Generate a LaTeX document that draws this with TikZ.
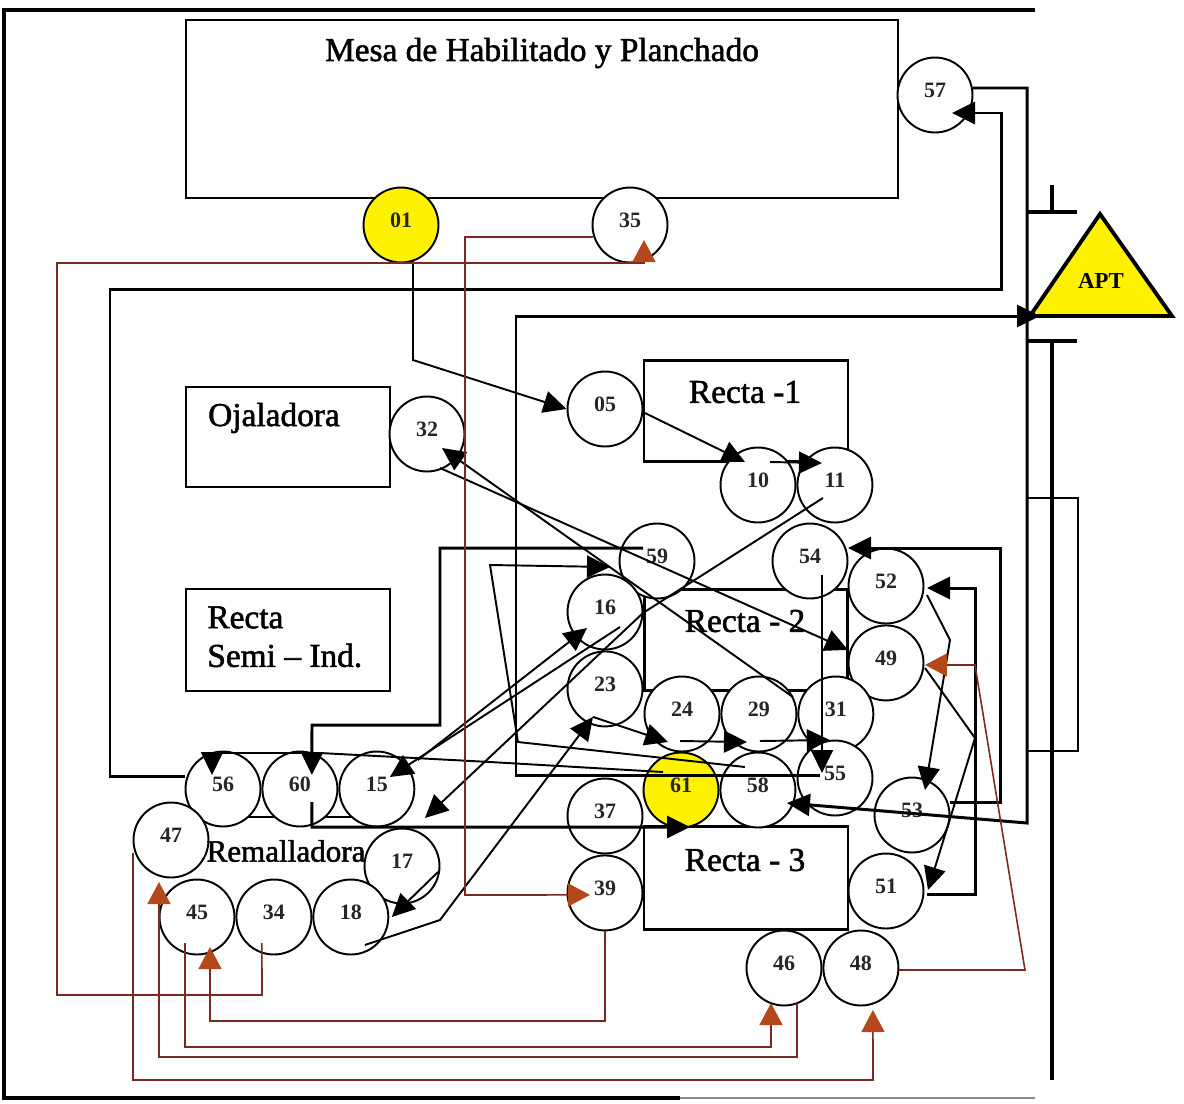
\documentclass[tikz,border=0pt]{standalone}
\usepackage{fontspec}
\setmainfont{Liberation Serif}
\newfontfamily\rotfont[FakeBold=1.6]{Liberation Serif}
\usetikzlibrary{positioning,arrows.meta,calc}
\definecolor{rojizo}{HTML}{7A2A22}
\definecolor{puntarojiza}{HTML}{B5481A}
\definecolor{amarillo}{HTML}{FFF200}
\tikzset{
  maq/.style={draw,circle,line width=1.1pt,minimum size=1.5cm,inner sep=0pt,
            fill=white,text height=8.5pt,text depth=6.1pt,
            font=\fontsize{12.5}{14}\selectfont\bfseries,text=black!85},
  maqini/.style={maq,fill=amarillo},
  mesa/.style={draw,line width=1.3pt,fill=white,inner sep=0pt},
  rotulo/.style={font=\fontsize{19}{22}\selectfont\rotfont,align=left,inner sep=0pt},
  flecha/.style={-{Triangle[length=0.46cm,width=0.44cm]},line width=1.1pt,black},
  flechag/.style={flecha,line width=1.7pt},
  flecharoja/.style={-{Triangle[length=0.44cm,width=0.46cm,fill=puntarojiza,color=puntarojiza]},
            line width=0.9pt,rojizo},
  marco/.style={line width=1.8pt,black},
}
\begin{document}
\begin{tikzpicture}[x=0.02cm,y=-0.02cm,node distance=0pt]
  \useasboundingbox (0,0) rectangle (1184,1103);
  % marco y pasillo
  \draw[marco] (1035,10) -- (4,10) -- (4,1098) -- (680,1098);
  \draw[line width=1.2pt,black!45] (680,1098) -- (1035,1098);
  \draw[marco] (1052,185) -- (1052,212);
  \draw[marco] (1027,212) -- (1077,212);
  \draw[marco] (1027,341) -- (1077,341);
  \draw[marco] (1052,341) -- (1052,1080);
  \draw[line width=1.1pt] (1027,498) -- (1078,498) -- (1078,751) -- (1027,751);
  % mesas
  \node[mesa,minimum width=14.24cm,minimum height=3.56cm] (mesaplan) at (542,109) {};
  \node[mesa,minimum width=4.08cm,minimum height=2cm] (ojal) at (288,437) {};
  \node[mesa,minimum width=4.08cm,minimum height=2.04cm] (semi) at (288,640) {};
  \node[mesa,minimum width=4.08cm,minimum height=2.02cm] (recta1) at (746,411) {};
  \node[mesa,minimum width=4.06cm,minimum height=2.02cm] (recta2) at (746,640) {};
  \node[mesa,minimum width=4.08cm,minimum height=2.06cm] (recta3) at (746,878) {};
  \draw[line width=1.1pt] (223,817) -- (376,817);
  % maquinas
  \node[maq] (n57) at (935,95) {57};
  \node[maqini] (n01) at (401,225) {01};
  \node[maq] (n35) at (630,225) {35};
  \node[maq] (n05) at (605,409) {05};
  \node[maq] (n32) at (427,434) {32};
  \node[maq] (n10) at (758,485) {10};
  \node[maq,right=of n10] (n11) {11};
  \node[maq] (n59) at (657,561) {59};
  \node[maq] (n54) at (810,561) {54};
  \node[maq] (n52) at (886,586) {52};
  \node[maq,below=of n52] (n49) {49};
  \node[maq] (n16) at (605,612) {16};
  \node[maq,below=of n16] (n23) {23};
  \node[maq] (n24) at (682,714) {24};
  \node[maq,right=of n24] (n29) {29};
  \node[maq,right=of n29] (n31) {31};
  \node[maq] (n56) at (223,789) {56};
  \node[maq,right=of n56] (n60) {60};
  \node[maq,right=of n60] (n15) {15};
  \node[maqini] (n61) at (681,790) {61};
  \node[maq,right=of n61] (n58) {58};
  \node[maq] (n55) at (835,778) {55};
  \node[maq] (n37) at (605,816) {37};
  \node[maq,below=of n37] (n39) {39};
  \node[maq] (n53) at (912,815) {53};
  \node[maq] (n47) at (171,840) {47};
  \node[maq] (n17) at (402,866) {17};
  \node[maq] (n51) at (886,891) {51};
  \node[maq] (n45) at (197,917) {45};
  \node[maq,right=of n45] (n34) {34};
  \node[maq,right=of n34] (n18) {18};
  \node[maq] (n46) at (784,968) {46};
  \node[maq,right=of n46] (n48) {48};
  % rotulos
  \node[rotulo] (tmesa) at (542,53) {Mesa de Habilitado y Planchado};
  \node[rotulo] (tojal) at (274,418) {Ojaladora};
  \node[rotulo,anchor=north west] (tsemi) at (207,606) {Recta\\Semi – Ind.};
  \node[rotulo] (trecta1) at (745,392) {Recta -1};
  \node[rotulo] (trecta2) at (745,621) {Recta - 2};
  \node[rotulo] (trecta3) at (745,860) {Recta - 3};
  \node[rotulo,font=\fontsize{17.7}{21}\selectfont\rotfont] (trem) at (286,851) {Remalladora};
  % almacen
  \coordinate (aptentra) at (1040,316);
  \draw[line width=2.2pt,fill=amarillo] (1100,214) -- (1172,316) -- (1030,316) -- cycle;
  \node[font=\fontsize{13}{15}\selectfont\bfseries,inner sep=0pt] (apt) at (1101,281) {APT};
  % recorrido
  \draw[flecha] ($(n01)+(12,36)$) -- (413,360) -- (n05.west);
  \draw[flecha] ($(n05)+(40,4)$) -- ($(n10)+(-13,-23)$);
  \draw[flecha] ($(n10)+(12,-23)$) -- ($(n11)+(-13,-22)$);
  \draw[flecha] ($(n11)+(-12,13)$) -- (643,613) -- ($(n17)+(23,-48)$);
  \draw[flecha] ($(n15)+(41,-29)$) -- ($(n16)+(-18,16)$);
  \draw[flecha] ($(n16)+(15,15)$) -- ($(n15)+(13,-12)$);
  \draw[flecha] ($(n17)+(36,6)$) -- ($(n18)+(41,0)$);
  \draw[flecha] ($(n18)+(14,28)$) -- (440,920) -- ($(n23)+(-12,28)$);
  \draw[flecha] ($(n23)+(-12,28)$) -- ($(n24)+(-14,28)$);
  \draw[flecha] ($(n24)+(-2,27)$) -- ($(n29)+(-12,28)$);
  \draw[flecha] ($(n29)+(1,27)$) -- ($(n31)+(-6,26)$);
  \draw[flecha] ($(n31)+(-43,-17)$) -- ($(n32)+(15,14)$);
  \draw[flecha] ($(n32)+(13,34)$) -- ($(n49)+(-38,-13)$);
  \draw[flecha] ($(n54)+(12,14)$) -- ($(n55)+(-13,-5)$);
  \draw[flecha] ($(n58)+(-13,-23)$) -- (518,742) -- (490,565) -- ($(n59)+(-47,6)$);
  \draw[flechag] ($(n59)+(-14,-13)$) -- (440,548) -- (440,725) -- (312,725) -- ($(n60)+(12,-14)$);
  \draw[flecha] ($(n61)+(-18,-18)$) -- (490,762) -- (320,753) -- (212,753) -- ($(n56)+(-11,-14)$);
  \draw[flechag] ($(n60)+(12,13)$) -- (312,827) -- ($(n61)+(9,37)$);
  \draw[flechag] ($(n55)+(-15,-3)$) -- (516,775) -- (516,316) -- (aptentra);
  \draw[flechag] ($(n56)+(-38,-13)$) -- (110,776) -- (110,289) -- (1001,289) -- (1001,113) -- ($(n57)+(17,18)$);
  \draw[flechag] ($(n57)+(38,-7)$) -- (1027,88) -- (1027,823) -- ($(n58)+(29,13)$);
  \draw[flechag] ($(n53)+(38,-13)$) -- (1000,802) -- (1000,548) -- ($(n54)+(38,-13)$);
  \draw[flechag] ($(n51)+(41,3)$) -- (975,894) -- (975,588) -- ($(n52)+(41,2)$);
  \draw[flecha] ($(n52)+(41,9)$) -- (950,640) -- ($(n53)+(13,-25)$);
  \draw[flecha] ($(n49)+(39,5)$) -- (975,738) -- ($(n51)+(42,-1)$);
  % recorrido de acabado
  \draw[flecharoja] ($(n34)+(-12,26)$) -- (262,995) -- (57,995) -- (57,263) -- (644,263) -- ($(n35)+(14,15)$);
  \draw[flecharoja] ($(n35)+(-37,12)$) -- (465,237) -- (465,895) -- ($(n39)+(-15,2)$);
  \draw[flecharoja] (n39.south) -- (605,1021) -- (210,1021) -- ($(n45)+(13,30)$);
  \draw[flecharoja] ($(n45)+(-12,26)$) -- (185,1047) -- (771,1047) -- ($(n46)+(-13,35)$);
  \draw[flecharoja] ($(n46)+(13,35)$) -- (797,1057) -- (159,1057) -- ($(n47)+(-12,42)$);
  \draw[flecharoja] ($(n47)+(-38,13)$) -- (133,1080) -- (873,1080) -- ($(n48)+(12,42)$);
  \draw[flecharoja] ($(n48)+(38,2)$) -- (1025,970) -- (975,665) -- ($(n49)+(39,2)$);
\end{tikzpicture}
\end{document}
